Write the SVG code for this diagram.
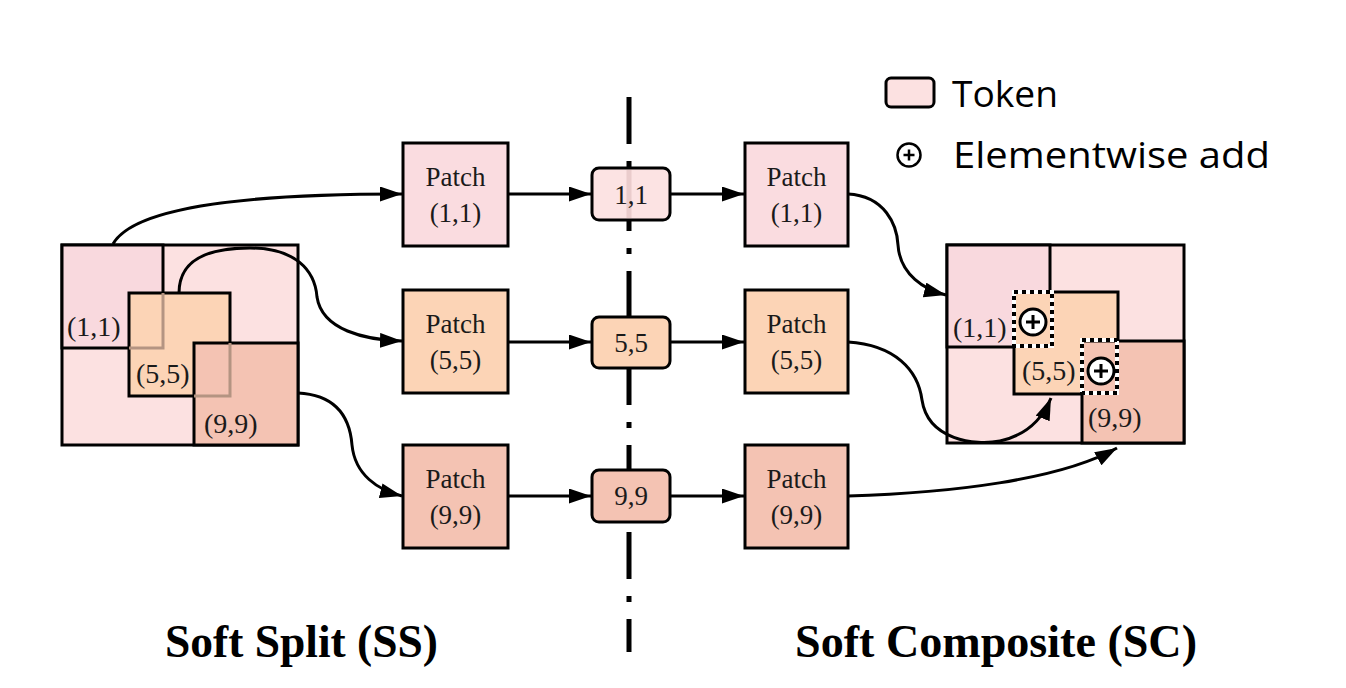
<svg xmlns="http://www.w3.org/2000/svg" width="1346" height="688" viewBox="0 0 1346 688">
<defs>
<style>
.box{stroke:#000;stroke-width:3}
.tl{fill:#f9d9de}
.bg{fill:#fce1e1}
.c5{fill:#fcd4b6}
.c9{fill:#f4c3b3}
.c1{fill:#fadce0}
.ln{fill:none;stroke:#000;stroke-width:3}
.ghost{fill:none;stroke:#b49482;stroke-width:3}
.t{font-family:"Liberation Serif","Times New Roman",serif;font-size:27px;fill:#1a1a1a;text-anchor:middle}
.lab{font-family:"Liberation Serif","Times New Roman",serif;font-size:28px;fill:#1a1a1a}
.title{font-family:"Liberation Serif","Times New Roman",serif;font-size:46px;font-weight:bold;fill:#000}
.leg{font-family:"Open Sans","Noto Sans",sans-serif;font-size:36px;fill:#000}
.arr{fill:none;stroke:#000;stroke-width:3;marker-end:url(#ah)}
.dotw{fill:none;stroke:#fff;stroke-width:4}
.dotb{fill:none;stroke:#000;stroke-width:4;stroke-dasharray:4 4}
</style>
<marker id="ah" markerUnits="userSpaceOnUse" markerWidth="24" markerHeight="16" refX="22" refY="7.5" orient="auto">
<path d="M0,0 L22,7.5 L0,15 z" fill="#000"/>
</marker>
</defs>
<rect width="1346" height="688" fill="#fff"/>

<!-- dash-dot divider -->
<g id="divider">
<line x1="629" y1="97" x2="629" y2="652" stroke="#000" stroke-width="5" stroke-dasharray="47 17 6 17"/>
</g>

<!-- left big image -->
<g id="ss-image">
<rect class="box bg" x="62" y="245" width="236" height="200"/>
<rect class="box tl" x="62" y="245" width="101" height="103"/>
<rect class="box c5" x="129" y="293" width="101" height="103"/>
<polyline class="ghost" points="163,293 163,348 129,348"/>
<rect class="box c9" x="194" y="343" width="104" height="102"/>
<polyline class="ghost" points="230,343 230,396 194,396"/>
<text class="lab" x="67" y="336">(1,1)</text>
<text class="lab" x="136" y="383">(5,5)</text>
<text class="lab" x="204" y="433">(9,9)</text>
</g>

<!-- right big image -->
<g id="sc-image">
<rect class="box bg" x="947" y="245" width="237" height="198"/>
<rect class="box tl" x="947" y="245" width="103" height="102"/>
<rect class="box c5" x="1014" y="292" width="104" height="102"/>
<rect class="box c9" x="1082" y="341" width="102" height="102"/>
<rect class="c5" x="1015.5" y="293.5" width="35" height="52"/>
<rect class="dotw" x="1014" y="292" width="38" height="54"/>
<rect class="dotb" x="1014" y="292" width="38" height="54"/>
<rect class="dotw" x="1082" y="340" width="35" height="53"/>
<rect class="dotb" x="1082" y="340" width="35" height="53"/>
<text class="lab" x="953" y="337">(1,1)</text>
<text class="lab" x="1022" y="380">(5,5)</text>
<text class="lab" x="1088" y="427">(9,9)</text>
<g id="add1">
<circle cx="1033" cy="322" r="13" fill="#fff" stroke="#000" stroke-width="3"/>
<path d="M1026,322 H1040 M1033,315 V329" stroke="#000" stroke-width="3"/>
</g>
<g id="add2">
<circle cx="1101" cy="371" r="13" fill="#fff" stroke="#000" stroke-width="3"/>
<path d="M1094,371 H1108 M1101,364 V378" stroke="#000" stroke-width="3"/>
</g>
</g>

<!-- left patches -->
<g id="patch-l-11"><rect class="box c1" x="403" y="143" width="105" height="103"/><text class="t" x="455.5" y="186">Patch</text><text class="t" x="455.5" y="222">(1,1)</text></g>
<g id="patch-l-55"><rect class="box c5" x="403" y="290" width="105" height="103"/><text class="t" x="455.5" y="333">Patch</text><text class="t" x="455.5" y="369">(5,5)</text></g>
<g id="patch-l-99"><rect class="box c9" x="403" y="445" width="105" height="103"/><text class="t" x="455.5" y="488">Patch</text><text class="t" x="455.5" y="524">(9,9)</text></g>

<!-- tokens -->
<g id="token-11"><rect class="box" fill="#fce3e3" x="592" y="168" width="78" height="52" rx="7"/><rect x="626.5" y="170" width="5" height="48" fill="#c8a0a0" opacity="0.35"/><text class="t" x="631" y="204">1,1</text></g>
<g id="token-55"><rect class="box c5" x="592" y="317" width="78" height="51" rx="7"/><text class="t" x="631" y="352">5,5</text></g>
<g id="token-99"><rect class="box c9" x="592" y="470" width="78" height="52" rx="7"/><text class="t" x="631" y="505">9,9</text></g>

<!-- right patches -->
<g id="patch-r-11"><rect class="box c1" x="745" y="143" width="103" height="103"/><text class="t" x="796.5" y="186">Patch</text><text class="t" x="796.5" y="222">(1,1)</text></g>
<g id="patch-r-55"><rect class="box c5" x="745" y="290" width="103" height="103"/><text class="t" x="796.5" y="333">Patch</text><text class="t" x="796.5" y="369">(5,5)</text></g>
<g id="patch-r-99"><rect class="box c9" x="745" y="445" width="103" height="103"/><text class="t" x="796.5" y="488">Patch</text><text class="t" x="796.5" y="524">(9,9)</text></g>

<!-- connectors -->
<g id="connectors">
<path class="arr" d="M113,244 C135,205 255,194 402,194"/>
<path class="arr" d="M179,293 C179,258 210,248 250,248 C295,248 315,270 317,297 C322,330 365,340 402,341"/>
<path class="arr" d="M298,393 C338,395 350,420 352,445 C355,475 378,490 402,496"/>
<path class="arr" d="M508,194 H591"/>
<path class="arr" d="M508,342 H591"/>
<path class="arr" d="M508,496 H591"/>
<path class="arr" d="M670,194 H744"/>
<path class="arr" d="M670,342 H744"/>
<path class="arr" d="M670,496 H744"/>
<path class="arr" d="M848,194 C885,196 897,225 898,245 C900,275 925,290 946,295"/>
<path class="arr" d="M848,342 C895,345 918,370 922,400 C928,440 975,446 1000,441 C1027,435 1042,420 1051,398"/>
<path class="arr" d="M848,496 C950,493 1060,480 1117,448"/>
</g>

<!-- legend -->
<g id="legend">
<rect x="886" y="78" width="48" height="29" rx="5" fill="#fce1e1" stroke="#000" stroke-width="3"/>
<text class="leg" x="952" y="107" textLength="106" lengthAdjust="spacingAndGlyphs">Token</text>
<circle cx="909" cy="155" r="11.5" fill="#fff" stroke="#000" stroke-width="2.5"/>
<path d="M903.5,155 H914.5 M909,149.5 V160.5" stroke="#000" stroke-width="2.5"/>
<text class="leg" x="953" y="168" textLength="317" lengthAdjust="spacingAndGlyphs">Elementwise add</text>
</g>

<!-- titles -->
<g id="titles">
<text class="title" x="165" y="657" textLength="273" lengthAdjust="spacingAndGlyphs">Soft Split (SS)</text>
<text class="title" x="795" y="657" textLength="402" lengthAdjust="spacingAndGlyphs">Soft Composite (SC)</text>
</g>
</svg>
